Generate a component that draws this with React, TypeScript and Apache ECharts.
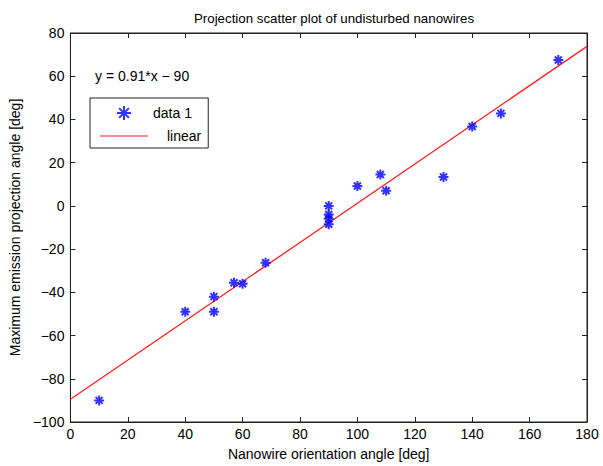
import React, { useEffect, useRef } from "react";
import * as echarts from "echarts";

const orientationDeg = [10, 40, 50, 50, 57, 60, 68, 90, 90, 90, 90, 100, 108, 110, 130, 140, 150, 170];
const emissionDeg = [-90, -49, -42, -49, -35.6, -36, -26.3, 0, -4, -6, -8.5, 9.2, 14.5, 7, 13.4, 36.7, 42.8, 67.5];
const fitX = [0, 180];
const fitY = [-89.5, 73.8];
const xTicks = [0, 20, 40, 60, 80, 100, 120, 140, 160, 180];
const yTicks = [-100, -80, -60, -40, -20, 0, 20, 40, 60, 80];

const FONT = "Liberation Sans, Arial, sans-serif";
const STAR = "path://M5,0L5,10M0,5L10,5M1.5,1.5L8.5,8.5M1.5,8.5L8.5,1.5";
const LINE_ICON = "path://M0,0L0.01,0L0.01,0.01L0,0.01ZM0,6.4L48,6.4L48,7.6L0,7.6ZM47.99,13.99L48,13.99L48,14L47.99,14Z";

export default function App() {
  const ref = useRef<HTMLDivElement>(null);
  useEffect(() => {
    if (!ref.current) return;
    const chart = echarts.init(ref.current, null, { renderer: "svg" });
    const axisLine = { show: true, onZero: false, lineStyle: { color: "#222", width: 1 } };
    const tick = { show: true, inside: true, length: 5, lineStyle: { color: "#222" } };
    const label = { color: "#000", fontSize: 14, fontFamily: FONT };
    chart.setOption({
      animation: false,
      backgroundColor: "#fff",
      title: {
        text: "Projection scatter plot of undisturbed nanowires",
        left: 329,
        textAlign: "center",
        top: 7,
        textStyle: { fontSize: 13.3, fontWeight: "normal", color: "#000", fontFamily: FONT },
      },
      grid: { left: 69, right: 16, top: 33, bottom: 42, show: true, borderColor: "#222", borderWidth: 1 },
      legend: {
        orient: "vertical",
        left: 90,
        top: 98,
        padding: [7, 7, 5, 10],
        itemGap: 8,
        itemWidth: 48,
        itemHeight: 14,
        borderColor: "#222",
        borderWidth: 1,
        backgroundColor: "#fff",
        textStyle: {
          fontSize: 14,
          color: "#000",
          fontFamily: FONT,
          rich: { pad: { width: 14 } },
        },
        formatter: (name: string) => (name === "linear" ? "{pad|}" + name : name),
        data: [{ name: "data 1" }, { name: "linear", icon: LINE_ICON }],
      },
      xAxis: [
        {
          type: "value",
          min: 0,
          max: 180,
          interval: 20,
          name: "Nanowire orientation angle [deg]",
          nameLocation: "middle",
          nameGap: 25,
          nameTextStyle: { fontSize: 14, color: "#000", fontFamily: FONT },
          axisLine,
          axisTick: tick,
          axisLabel: { ...label, margin: 5, showMinLabel: true, showMaxLabel: true },
          splitLine: { show: false },
          data: xTicks,
        },
        {
          type: "value",
          position: "top",
          min: 0,
          max: 180,
          interval: 20,
          axisLine,
          axisTick: tick,
          axisLabel: { show: false },
          splitLine: { show: false },
        },
      ],
      yAxis: [
        {
          type: "value",
          min: -100,
          max: 80,
          interval: 20,
          name: "Maximum emission projection angle [deg]",
          nameLocation: "middle",
          nameGap: 43,
          nameTextStyle: { fontSize: 14, color: "#000", fontFamily: FONT },
          axisLine,
          axisTick: tick,
          axisLabel: { ...label, margin: 6, showMinLabel: true, showMaxLabel: true, formatter: (v: number) => String(v).replace("-", "\u2212") },
          splitLine: { show: false },
          data: yTicks,
        },
        {
          type: "value",
          position: "right",
          min: -100,
          max: 80,
          interval: 20,
          axisLine,
          axisTick: tick,
          axisLabel: { show: false },
          splitLine: { show: false },
        },
      ],
      graphic: [
        {
          type: "text",
          left: 95,
          top: 69,
          style: { text: "y = 0.91*x \u2212 90", fontSize: 14, fill: "#000", fontFamily: FONT },
        },
      ],
      series: [
        {
          name: "linear",
          type: "line",
          data: fitX.map((x, i) => [x, fitY[i]]),
          showSymbol: false,
          symbol: "none",
          lineStyle: { color: "#ff2020", width: 1.3 },
          itemStyle: { color: "#ff2020" },
          z: 2,
        },
        {
          name: "data 1",
          type: "scatter",
          data: orientationDeg.map((x, i) => [x, emissionDeg[i]]),
          symbol: STAR,
          symbolSize: 10,
          itemStyle: { color: "#0000ff", borderColor: "#0000ff", borderWidth: 2 },
          z: 3,
        },
      ],
    });
    return () => chart.dispose();
  }, []);
  return <div ref={ref} style={{ width: 603, height: 466, position: "absolute", left: 0, top: 0 }} />;
}
